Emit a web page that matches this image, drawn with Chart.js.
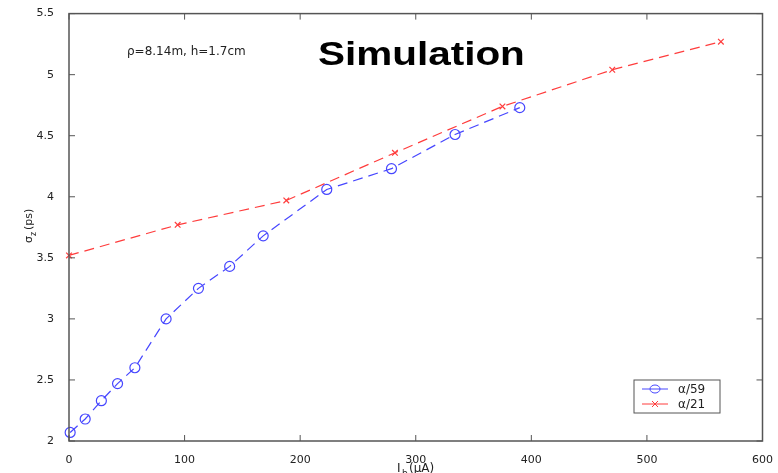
<!DOCTYPE html>
<html>
<head>
<meta charset="utf-8">
<script src="https://cdn.jsdelivr.net/npm/chart.js@4/dist/chart.umd.min.js"></script>
<style>
  html, body { margin: 0; padding: 0; background: #fff; }
  #wrap { width: 778px; height: 473px; }
</style>
</head>
<body>
<div id="wrap"><canvas id="chart" width="778" height="473"></canvas></div>
<script>
// data
const xBlue = [1, 14, 28, 42, 57, 84, 112, 139, 168, 223, 279, 334, 390];
const yBlue = [2.07, 2.18, 2.33, 2.47, 2.60, 3.00, 3.25, 3.43, 3.68, 4.06, 4.23, 4.51, 4.73];
const xRed = [0, 94, 188, 282, 375, 470, 564];
const yRed = [3.52, 3.77, 3.97, 4.36, 4.74, 5.04, 5.27];
const xTicks = [0, 100, 200, 300, 400, 500, 600];
const yTicks = [2, 2.5, 3, 3.5, 4, 4.5, 5, 5.5];
const seriesNames = ['α/59', 'α/21'];

const BLUE = 'rgb(70,70,255)';
const RED = 'rgb(255,60,60)';
const TXT = '#222';

function pts(xs, ys) {
  return xs.map((x, i) => ({ x: x, y: ys[i] }));
}

// frame, inward ticks, texts and legend (matlab look)
const decor = {
  id: 'decor',
  afterDraw(chart) {
    const ctx = chart.ctx;
    const a = chart.chartArea;
    const sx = chart.scales.x, sy = chart.scales.y;
    ctx.save();
    ctx.strokeStyle = '#555';
    ctx.lineWidth = 1.5;
    ctx.strokeRect(a.left, a.top, a.right - a.left, a.bottom - a.top);
    ctx.lineWidth = 1;
    ctx.beginPath();
    xTicks.forEach(v => {
      const px = sx.getPixelForValue(v);
      ctx.moveTo(px, a.bottom); ctx.lineTo(px, a.bottom - 6);
      ctx.moveTo(px, a.top); ctx.lineTo(px, a.top + 6);
    });
    yTicks.forEach(v => {
      const py = sy.getPixelForValue(v);
      ctx.moveTo(a.left, py); ctx.lineTo(a.left + 6, py);
      ctx.moveTo(a.right, py); ctx.lineTo(a.right - 6, py);
    });
    ctx.stroke();

    // title, stretched a little like the picture
    ctx.fillStyle = '#000';
    ctx.save();
    ctx.translate(318, 65);
    ctx.scale(1.19, 1);
    ctx.font = 'bold 34px "Liberation Sans", Arial, sans-serif';
    ctx.textBaseline = 'alphabetic';
    ctx.fillText('Simulation', 0, 0);
    ctx.restore();

    ctx.fillStyle = TXT;
    ctx.font = '12px "DejaVu Sans", sans-serif';
    ctx.fillText('ρ=8.14m, h=1.7cm', 127, 55);

    // x axis title I_b(μA)
    ctx.font = '12px "DejaVu Sans", sans-serif';
    ctx.fillText('I', 397, 472);
    ctx.font = '9px "DejaVu Sans", sans-serif';
    ctx.fillText('b', 402, 476);
    ctx.font = '12px "DejaVu Sans", sans-serif';
    ctx.fillText('(μA)', 409, 472);

    // y axis title σ_z(ps)
    ctx.save();
    ctx.translate(32, 243);
    ctx.rotate(-Math.PI / 2);
    ctx.font = '11px "DejaVu Sans", sans-serif';
    ctx.fillText('σ', 0, 0);
    ctx.font = '8px "DejaVu Sans", sans-serif';
    ctx.fillText('z', 7, 4);
    ctx.font = '11px "DejaVu Sans", sans-serif';
    ctx.fillText('(ps)', 13, 0);
    ctx.restore();

    // legend
    const lx = 634, ly = 380, lw = 86, lh = 33;
    ctx.fillStyle = '#fff';
    ctx.fillRect(lx, ly, lw, lh);
    ctx.strokeStyle = '#555';
    ctx.lineWidth = 1;
    ctx.strokeRect(lx, ly, lw, lh);
    chart.data.datasets.forEach((ds, i) => {
      const y = ly + 9 + i * 15;
      ctx.strokeStyle = ds.borderColor;
      ctx.beginPath();
      ctx.moveTo(lx + 8, y); ctx.lineTo(lx + 34, y);
      ctx.stroke();
      if (i === 0) {
        ctx.beginPath();
        ctx.ellipse(lx + 21, y, 5, 4, 0, 0, Math.PI * 2);
        ctx.stroke();
      } else {
        ctx.beginPath();
        ctx.moveTo(lx + 18, y - 3); ctx.lineTo(lx + 24, y + 3);
        ctx.moveTo(lx + 24, y - 3); ctx.lineTo(lx + 18, y + 3);
        ctx.stroke();
      }
      ctx.fillStyle = TXT;
      ctx.font = '12px "DejaVu Sans", sans-serif';
      ctx.textBaseline = 'middle';
      ctx.fillText(ds.label, lx + 44, y + 1);
      ctx.textBaseline = 'alphabetic';
    });
    ctx.restore();
  }
};

new Chart(document.getElementById('chart'), {
  type: 'scatter',
  data: {
    datasets: [
      {
        label: seriesNames[0],
        data: pts(xBlue, yBlue),
        showLine: true,
        borderColor: BLUE,
        borderWidth: 1.2,
        borderDash: [10, 6],
        pointStyle: 'circle',
        pointRadius: 5,
        pointBorderColor: BLUE,
        pointBackgroundColor: 'rgba(0,0,0,0)',
        pointBorderWidth: 1.2,
        clip: false
      },
      {
        label: seriesNames[1],
        data: pts(xRed, yRed),
        showLine: true,
        borderColor: RED,
        borderWidth: 1.2,
        borderDash: [10, 6],
        pointStyle: 'crossRot',
        pointRadius: 4,
        pointBorderColor: RED,
        pointBorderWidth: 1.2,
        clip: false
      }
    ]
  },
  options: {
    responsive: false,
    animation: false,
    layout: { padding: { top: 13, right: 14, left: 0, bottom: 0 } },
    plugins: { legend: { display: false }, tooltip: { enabled: false } },
    scales: {
      x: {
        type: 'linear',
        min: 0, max: 600,
        afterFit: s => { s.height = 32; },
        afterBuildTicks: s => { s.ticks = xTicks.map(v => ({ value: v })); },
        grid: { display: false },
        border: { display: false },
        ticks: { color: TXT, padding: 5, font: { size: 11, family: 'DejaVu Sans' }, maxRotation: 0, callback: v => String(v) }
      },
      y: {
        min: 2, max: 5.5,
        afterFit: s => { s.width = 69; },
        afterBuildTicks: s => { s.ticks = yTicks.map(v => ({ value: v })); },
        grid: { display: false },
        border: { display: false },
        ticks: { color: TXT, padding: 7, font: { size: 11, family: 'DejaVu Sans' }, callback: v => String(v) }
      }
    }
  },
  plugins: [decor]
});
</script>
</body>
</html>
